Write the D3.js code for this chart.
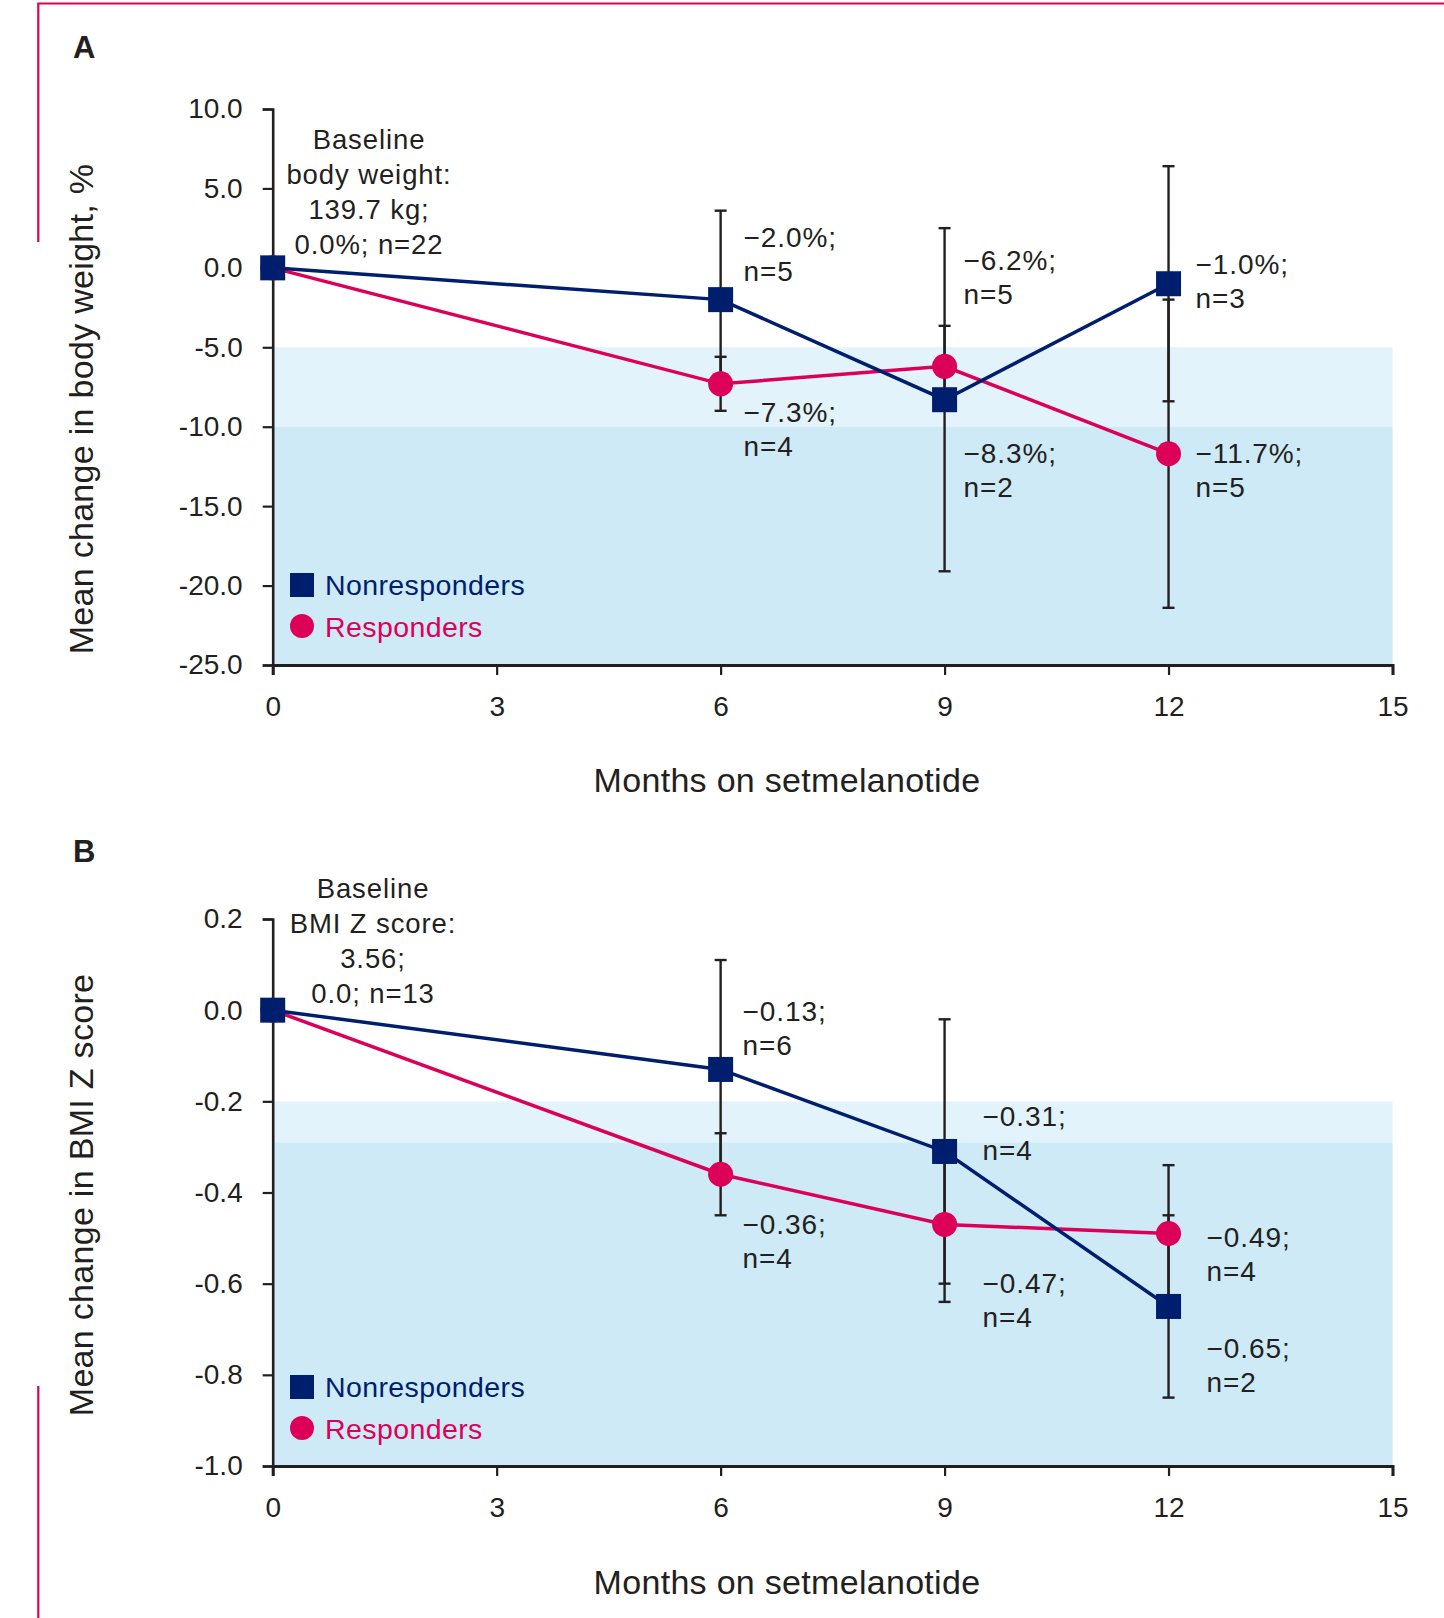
<!DOCTYPE html>
<html>
<head>
<meta charset="utf-8">
<script src="https://cdn.jsdelivr.net/npm/d3@7"></script>
<style>
  body { margin: 0; background: #fff; }
  svg { display: block; font-family: "Liberation Sans", Arial, sans-serif; }
</style>
</head>
<body>
<script>
// ---------------- DATA ----------------
const MONTHS = [0, 6, 9, 12];
const X_TICKS = [0, 3, 6, 9, 12, 15];

// panel A: % change in body weight
const WEIGHT_TICKS = [10, 5, 0, -5, -10, -15, -20, -25];
const WEIGHT_NONRESP = [0.0, -2.0, -8.3, -1.0];
const WEIGHT_NONRESP_SD = [0, 5.6, 10.8, 7.4];
const WEIGHT_NONRESP_N = [22, 5, 2, 3];
const WEIGHT_RESP = [0.0, -7.3, -6.2, -11.7];
const WEIGHT_RESP_SD = [0, 1.7, 2.55, 9.7];
const WEIGHT_RESP_N = [22, 4, 5, 5];
const WEIGHT_BANDS = [[-5, -10], [-10, -25]];
const WEIGHT_BASELINE = ["Baseline", "body weight:", "139.7 kg;", "0.0%; n=22"];

// panel B: change in BMI Z score
const BMIZ_TICKS = [0.2, 0, -0.2, -0.4, -0.6, -0.8, -1.0];
const BMIZ_NONRESP = [0.0, -0.13, -0.31, -0.65];
const BMIZ_NONRESP_SD = [0, 0.24, 0.29, 0.20];
const BMIZ_NONRESP_N = [13, 6, 4, 2];
const BMIZ_RESP = [0.0, -0.36, -0.47, -0.49];
const BMIZ_RESP_SD = [0, 0.09, 0.17, 0.15];
const BMIZ_RESP_N = [13, 4, 4, 4];
const BMIZ_BANDS = [[-0.2, -0.29], [-0.29, -1.0]];
const BMIZ_BASELINE = ["Baseline", "BMI Z score:", "3.56;", "0.0; n=13"];

// ---------------- STYLE ----------------
const NAVY = "#001e6e";
const PINK = "#dc0058";
const INK = "#231f20";
const BAND_COLORS = ["#e3f3fb", "#cdeaf6"];

const svg = d3.select("body").append("svg")
  .attr("width", 1444)
  .attr("height", 1618);

// pink frame pieces
svg.append("path")
  .attr("d", "M38.3,242 V3.5 H1444")
  .attr("fill", "none").attr("stroke", PINK).attr("stroke-width", 2.2);
svg.append("path")
  .attr("d", "M38.3,1386 V1618")
  .attr("fill", "none").attr("stroke", PINK).attr("stroke-width", 2.2);

const x = d3.scaleLinear().domain([0, 15]).range([272.7, 1392.5]);

function drawPanel(cfg) {
  const y = d3.scaleLinear().domain(cfg.yDomain).range(cfg.yRange);
  const g = svg.append("g");

  /* -------- bands -------- */
  g.selectAll("rect.band")
    .data(cfg.bands)
    .join("rect")
    .attr("class", "band")
    .attr("x", x(0))
    .attr("width", x(15) - x(0))
    .attr("y", d => y(d[0]))
    .attr("height", d => y(d[1]) - y(d[0]))
    .attr("fill", (d, i) => BAND_COLORS[i]);

  /* -------- axes -------- */
  const yAxis = g.append("g")
    .attr("transform", `translate(${x(0)},0)`)
    .call(d3.axisLeft(y).tickValues(cfg.ticks).tickSize(10).tickPadding(20)
      .tickFormat(d => d.toFixed(1)));
  const xAxis = g.append("g")
    .attr("transform", `translate(0,${y(cfg.yDomain[0])})`)
    .call(d3.axisBottom(x).tickValues(X_TICKS).tickSize(10).tickPadding(21)
      .tickFormat(d3.format("d")));

  [yAxis, xAxis].forEach(a => {
    a.select(".domain").attr("stroke", INK).attr("stroke-width", 2.6);
    a.selectAll(".tick line").attr("stroke", INK).attr("stroke-width", 2.2);
    a.selectAll(".tick text")
      .attr("fill", INK)
      .style("font-size", "28px")
      .style("font-family", "'Liberation Sans', Arial, sans-serif");
  });
  xAxis.select(".domain").attr("stroke-width", 3);

  /* -------- series -------- */
  const series = cfg.series.map(s => s.values.map((v, i) => ({
    month: MONTHS[i], value: v, sd: s.sd[i], n: s.n[i], i
  })));

  // error bars
  cfg.series.forEach((s, k) => {
    const bars = g.append("g").selectAll("g")
      .data(series[k].filter(d => d.sd > 0))
      .join("g")
      .attr("stroke", INK)
      .attr("stroke-width", 2.4);
    bars.append("line")
      .attr("x1", d => x(d.month)).attr("x2", d => x(d.month))
      .attr("y1", d => y(d.value + d.sd)).attr("y2", d => y(d.value - d.sd));
    bars.append("line")
      .attr("x1", d => x(d.month) - 6).attr("x2", d => x(d.month) + 6)
      .attr("y1", d => y(d.value + d.sd)).attr("y2", d => y(d.value + d.sd));
    bars.append("line")
      .attr("x1", d => x(d.month) - 6).attr("x2", d => x(d.month) + 6)
      .attr("y1", d => y(d.value - d.sd)).attr("y2", d => y(d.value - d.sd));
  });

  const line = d3.line().x(d => x(d.month)).y(d => y(d.value));

  // responders first, nonresponders on top
  [1, 0].forEach(k => {
    g.append("path")
      .datum(series[k])
      .attr("d", line)
      .attr("fill", "none")
      .attr("stroke", cfg.series[k].color)
      .attr("stroke-width", 3.5);
  });
  [1, 0].forEach(k => {
    const s = cfg.series[k];
    if (s.shape === "square") {
      g.append("g").selectAll("rect")
        .data(series[k])
        .join("rect")
        .attr("x", d => x(d.month) - 12.5)
        .attr("y", d => y(d.value) - 12.5)
        .attr("width", 25).attr("height", 25)
        .attr("fill", s.color);
    } else {
      g.append("g").selectAll("circle")
        .data(series[k])
        .join("circle")
        .attr("cx", d => x(d.month))
        .attr("cy", d => y(d.value))
        .attr("r", 12.5)
        .attr("fill", s.color);
    }
  });

  /* -------- point labels -------- */
  cfg.series.forEach((s, k) => {
    series[k].filter(d => d.i > 0).forEach(d => {
      const [dx, dy] = s.offsets[d.i - 1];
      const t = g.append("text")
        .attr("fill", INK)
        .style("font-size", "28px")
        .style("letter-spacing", "0.9px");
      t.append("tspan")
        .attr("x", x(d.month) + dx).attr("y", y(d.value) + dy)
        .text(cfg.fmt(d.value));
      t.append("tspan")
        .attr("x", x(d.month) + dx).attr("y", y(d.value) + dy + 34)
        .text("n=" + d.n);
    });
  });

  /* -------- baseline note -------- */
  g.append("text")
    .attr("text-anchor", "middle")
    .attr("fill", INK)
    .style("font-size", "27.5px")
    .style("letter-spacing", "0.9px")
    .selectAll("tspan")
    .data(cfg.baseline)
    .join("tspan")
    .attr("x", cfg.baselineX)
    .attr("y", (d, i) => cfg.baselineY + i * 35)
    .text(d => d);

  /* -------- legend -------- */
  const lg = g.append("g").attr("transform", `translate(290,${cfg.legendY})`);
  lg.append("rect").attr("x", 0).attr("y", 0).attr("width", 24).attr("height", 24)
    .attr("fill", NAVY);
  lg.append("text").attr("x", 35).attr("y", 22).attr("fill", NAVY)
    .style("font-size", "28.5px").style("letter-spacing", "0.4px").text("Nonresponders");
  lg.append("circle").attr("cx", 12).attr("cy", 53).attr("r", 12)
    .attr("fill", PINK);
  lg.append("text").attr("x", 35).attr("y", 64).attr("fill", PINK)
    .style("font-size", "28.5px").style("letter-spacing", "0.4px").text("Responders");

  /* -------- titles -------- */
  g.append("text")
    .attr("x", 73).attr("y", cfg.letterY)
    .attr("fill", INK)
    .style("font-size", "31px").style("font-weight", "bold")
    .text(cfg.letter);

  g.append("text")
    .attr("transform", `translate(93,${cfg.yTitleY}) rotate(-90)`)
    .attr("text-anchor", "middle")
    .attr("fill", INK)
    .style("font-size", "34px")
    .style("letter-spacing", "0.3px")
    .text(cfg.yTitle);

  g.append("text")
    .attr("x", 787).attr("y", cfg.xTitleY)
    .attr("text-anchor", "middle")
    .attr("fill", INK)
    .style("font-size", "34px")
    .style("letter-spacing", "0.3px")
    .text("Months on setmelanotide");
}

const pctFmt = v => "\u2212" + Math.abs(v).toFixed(1) + "%;";
const zFmt = v => "\u2212" + Math.abs(v).toFixed(2) + ";";

drawPanel({
  letter: "A", letterY: 58,
  yDomain: [-25, 10], yRange: [665, 109],
  ticks: WEIGHT_TICKS,
  bands: WEIGHT_BANDS,
  fmt: pctFmt,
  baseline: WEIGHT_BASELINE, baselineX: 369, baselineY: 149,
  legendY: 573,
  yTitle: "Mean change in body weight, %", yTitleY: 409,
  xTitleY: 792,
  series: [
    { values: WEIGHT_NONRESP, sd: WEIGHT_NONRESP_SD, n: WEIGHT_NONRESP_N,
      color: NAVY, shape: "square", offsets: [[23, -53], [19, 63], [27, -10]] },
    { values: WEIGHT_RESP, sd: WEIGHT_RESP_SD, n: WEIGHT_RESP_N,
      color: PINK, shape: "circle", offsets: [[23, 38], [19, -96], [27, 9]] }
  ]
});

drawPanel({
  letter: "B", letterY: 862,
  yDomain: [-1.0, 0.2], yRange: [1466, 919],
  ticks: BMIZ_TICKS,
  bands: BMIZ_BANDS,
  fmt: zFmt,
  baseline: BMIZ_BASELINE, baselineX: 373, baselineY: 898,
  legendY: 1375,
  yTitle: "Mean change in BMI Z score", yTitleY: 1195,
  xTitleY: 1594,
  series: [
    { values: BMIZ_NONRESP, sd: BMIZ_NONRESP_SD, n: BMIZ_NONRESP_N,
      color: NAVY, shape: "square", offsets: [[22, -48], [38, -25], [38, 52]] },
    { values: BMIZ_RESP, sd: BMIZ_RESP_SD, n: BMIZ_RESP_N,
      color: PINK, shape: "circle", offsets: [[22, 60], [38, 69], [38, 13]] }
  ]
});
</script>
</body>
</html>
